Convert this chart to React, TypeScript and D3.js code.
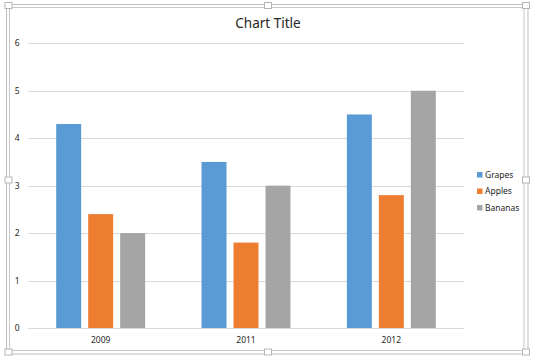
import * as d3 from "d3"

const categories = ["2009", "2011", "2012"]
const seriesNames = ["Grapes", "Apples", "Bananas"]
const grapes = [4.3, 3.5, 4.5]
const apples = [2.4, 1.8, 2.8]
const bananas = [2.0, 3.0, 5.0]
const yTicks = [0, 1, 2, 3, 4, 5, 6]

const colors = ["#5B9BD5", "#ED7D31", "#A5A5A5"]
const font = "'Noto Sans', 'Open Sans', sans-serif"

export default function App() {
    const width = 535
    const height = 359
    const plot = { left: 28, right: 464, top: 43.3, bottom: 328 }
    const values = [grapes, apples, bananas]

    const x = d3.scaleBand<string>()
        .domain(categories)
        .range([plot.left, plot.right])
        .paddingInner(0.388)
        .paddingOuter(0.194)

    const xs = d3.scaleBand<string>()
        .domain(seriesNames)
        .range([0, x.bandwidth()])
        .paddingInner(0.219)

    const y = d3.scaleLinear().domain([0, 6]).range([plot.bottom, plot.top])

    // selection handles of the chart frame
    const handles: [number, number][] = [
        [8.5, 5.5], [268, 5.5], [526, 5.5],
        [8.5, 180], [526, 180],
        [8.5, 352], [268, 352], [526, 352],
    ]

    return (
        <svg width={width} height={height} style={{ position: "absolute", left: 0, top: 0 }} fontFamily={font}>
            <rect width={width} height={height} fill="#fff" />
            {/* frame */}
            <rect x={6.5} y={4.5} width={521.5} height={349.5} fill="none" stroke="#BDBDBD" />
            <rect x={9.5} y={7.5} width={514.5} height={343} fill="#fff" stroke="#C8C8C8" />
            {handles.map(([hx, hy], i) => (
                <rect key={i} x={hx - 3.5} y={hy - 3} width={7} height={6} fill="#fff" stroke="#B5B5B5" />
            ))}

            <text x={268} y={28} textAnchor="middle" fontSize={13.5} fill="#262626">Chart Title</text>

            {/* grid */}
            {yTicks.map((t) => (
                <g key={t}>
                    <line x1={plot.left} x2={plot.right} y1={Math.round(y(t)) + 0.5} y2={Math.round(y(t)) + 0.5}
                        stroke="#D9D9D9" />
                    <text x={19.5} y={y(t) + 3} textAnchor="end" fontSize={8.5} fill="#262626">{t}</text>
                </g>
            ))}

            {/* bars */}
            {categories.map((c, ci) => (
                <g key={c} transform={`translate(${x(c)},0)`}>
                    {seriesNames.map((s, si) => (
                        <rect key={s} x={xs(s)} y={y(values[si][ci])} width={xs.bandwidth()}
                            height={y(0) - y(values[si][ci])} fill={colors[si]} />
                    ))}
                </g>
            ))}

            {categories.map((c) => (
                <text key={c} x={(x(c) ?? 0) + x.bandwidth() / 2} y={343} textAnchor="middle" fontSize={8.5} fill="#262626">{c}</text>
            ))}

            {/* legend */}
            {seriesNames.map((s, i) => (
                <g key={s} transform={`translate(477,${175 + i * 16.5})`}>
                    <rect x={0} y={-3} width={5.5} height={5.5} fill={colors[i]} />
                    <text x={8} y={2.8} fontSize={8.5} fill="#262626">{s}</text>
                </g>
            ))}
        </svg>
    )
}
